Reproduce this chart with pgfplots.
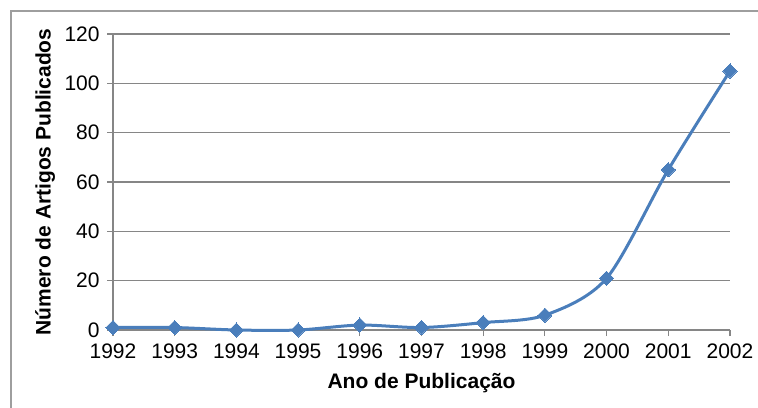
\documentclass[border=0pt]{standalone}
\usepackage{pgfplots}
\pgfplotsset{compat=1.18}
\usepackage{fontspec}
\setmainfont{Liberation Sans}
\definecolor{serie}{RGB}{74,126,187}
\definecolor{grade}{RGB}{134,134,134}
\begin{document}
\fontsize{10.5}{12.6}\selectfont
\begin{tikzpicture}
\useasboundingbox (0,0) rectangle (379pt,203.5pt);
\begin{scope}
\clip (0,0) rectangle (379pt,203.5pt);
\draw[grade!80, line width=0.6pt] (5.5pt,-10pt) rectangle (395pt,198pt);
\end{scope}
\begin{axis}[
  at={(56.5pt,38.5pt)}, anchor=south west,
  scale only axis, width=308.5pt, height=148pt,
  xmin=1992, xmax=2002, ymin=0, ymax=120,
  xtick={1992,...,2002}, ytick={0,20,...,120},
  /pgf/number format/assume math mode=true,
  xticklabel style={/pgf/number format/1000 sep={}},
  axis x line*=bottom, axis y line*=left,
  axis line style={grade, line width=0.6pt},
  x axis line style={-}, y axis line style={-},
  tick style={grade, line width=0.6pt},
  xtick align=outside, ytick align=outside,
  major tick length=3pt,
  ymajorgrids, grid style={grade, line width=0.6pt},
  xlabel={\bfseries Ano de Publicação},
  ylabel={\bfseries Número de Artigos Publicados},
  xlabel style={at={(axis description cs:0.5,-0.179)}, anchor=center},
  ylabel style={at={(axis description cs:-0.110,0.5)}, anchor=center},
  font=\fontsize{10.5}{12.6}\selectfont,
  clip=false,
]
\addplot[serie, line width=1.5pt, smooth, tension=0.5,
  mark=square*, mark size=2.5pt, mark options={rotate=45, fill=serie, draw=serie, line width=0pt}]
  coordinates {(1992,1) (1993,1) (1994,0) (1995,0) (1996,2) (1997,1) (1998,3) (1999,6) (2000,21) (2001,65) (2002,105)};
\end{axis}
\end{tikzpicture}
\end{document}
